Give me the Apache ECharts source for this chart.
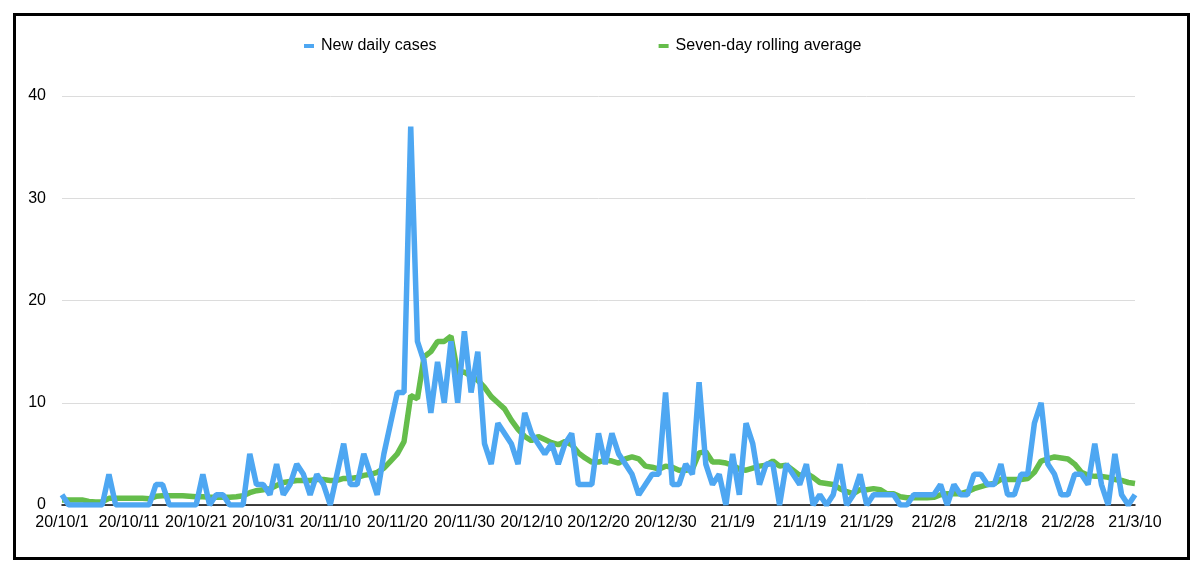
<!DOCTYPE html>
<html>
<head>
<meta charset="utf-8">
<script src="https://cdn.jsdelivr.net/npm/echarts@6/dist/echarts.min.js"></script>
<style>
html,body{margin:0;padding:0;background:#fff;}
#chart{width:1200px;height:570px;}
</style>
</head>
<body>
<div id="chart"></div>
<script>
// Series names
const seriesNames = ['New daily cases', 'Seven-day rolling average'];

// Daily categories 2020-10-01 .. 2021-03-10 (label format yy/m/d)
const startDate = [2020, 10, 1];
const dayCount = 161;
const categories = [];
(function () {
  const d = new Date(Date.UTC(startDate[0], startDate[1] - 1, startDate[2]));
  for (let i = 0; i < dayCount; i++) {
    categories.push((d.getUTCFullYear() % 100) + '/' + (d.getUTCMonth() + 1) + '/' + d.getUTCDate());
    d.setUTCDate(d.getUTCDate() + 1);
  }
})();

// New daily cases
const dailyCases = [
  1,0,0,0,0,0,0,3,0,0,
  0,0,0,0,2,2,0,0,0,0,
  0,3,0,1,1,0,0,0,5,2,
  2,1,4,1,2,4,3,1,3,2,
  0,3,6,2,2,5,3,1,5,8,
  11,11,37,16,14,9,14,10,16,10,
  17,11,15,6,4,8,7,6,4,9,
  7,6,5,6,4,6,7,2,2,2,
  7,4,7,5,4,3,1,2,3,3,
  11,2,2,4,3,12,4,2,3,0,
  5,1,8,6,2,4,4,0,4,3,
  2,4,0,1,0,1,4,0,1,3,
  0,1,1,1,1,0,0,1,1,1,
  1,2,0,2,1,1,3,3,2,2,
  4,1,1,3,3,8,10,4,3,1,
  1,3,3,2,6,2,0,5,1,0,
  1
];

// Seven-day rolling average
const rollingAvg = [
  0.5,0.5,0.5,0.5,0.35,0.3,0.3,0.65,0.65,0.65,
  0.65,0.65,0.65,0.6,0.85,0.9,0.9,0.9,0.9,0.85,
  0.8,0.8,0.75,0.75,0.75,0.75,0.8,0.9,1.2,1.4,
  1.5,1.6,1.9,2.2,2.3,2.4,2.4,2.4,2.5,2.5,
  2.4,2.4,2.6,2.6,2.7,2.9,3.0,3.2,3.6,4.3,
  5.0,6.2,10.7,10.4,14.5,15.0,16.0,16.0,16.5,12.9,
  13.0,12.6,12.2,11.5,10.6,10.0,9.4,8.3,7.4,6.7,
  6.3,6.7,6.4,6.1,5.9,6.2,5.9,5.1,4.6,4.2,
  4.2,4.4,4.3,4.1,4.5,4.7,4.5,3.8,3.7,3.5,
  3.8,3.7,3.4,3.4,3.5,5.1,5.2,4.2,4.2,4.1,
  3.9,3.5,3.4,3.6,3.8,3.9,4.3,3.8,3.9,3.4,
  2.9,3.1,2.7,2.2,2.1,2.0,1.6,1.3,1.1,1.5,
  1.5,1.6,1.5,1.1,1.1,0.8,0.7,0.7,0.7,0.7,
  0.75,1.0,1.1,1.1,1.1,1.3,1.6,1.8,2.0,2.1,
  2.5,2.5,2.5,2.5,2.6,3.2,4.3,4.5,4.7,4.6,
  4.5,4.0,3.2,2.9,2.8,2.8,2.7,2.5,2.4,2.2,
  2.1
];

// Y axis ticks
const yTicks = [0, 10, 20, 30, 40];

const FONT = '"Liberation Sans", Arial, Helvetica, sans-serif';
const chart = echarts.init(document.getElementById('chart'), null, {renderer: 'canvas'});
chart.setOption({
  animation: false,
  backgroundColor: '#ffffff',
  graphic: [{
    type: 'rect',
    left: 12, top: 12,
    shape: {x: 0, y: 0, width: 1174, height: 544},
    style: {fill: 'none', stroke: '#000', lineWidth: 3},
    z: 100
  }],
  legend: {
    data: seriesNames,
    left: 299,
    top: 33,
    icon: 'rect',
    itemWidth: 10,
    itemHeight: 4,
    itemGap: 222,
    textStyle: {fontFamily: FONT, fontSize: 16, color: '#000', padding: [0, 0, 0, 2]}
  },
  grid: {left: 62, right: 65, top: 96, bottom: 65, containLabel: false},
  xAxis: {
    type: 'category',
    data: categories,
    boundaryGap: false,
    axisLine: {show: true, lineStyle: {color: '#000', width: 1.5}},
    axisTick: {show: false},
    axisLabel: {interval: 9, margin: 10, fontFamily: FONT, fontSize: 16, color: '#000'},
    splitLine: {show: false}
  },
  yAxis: {
    type: 'value',
    min: yTicks[0],
    max: yTicks[yTicks.length - 1],
    interval: 10,
    axisLine: {show: false},
    axisTick: {show: false},
    axisLabel: {margin: 16, fontFamily: FONT, fontSize: 16, color: '#000'},
    splitLine: {lineStyle: {color: '#dcdcdc', width: 1}}
  },
  series: [
    {
      name: seriesNames[0],
      type: 'line',
      data: dailyCases,
      symbol: 'none',
      showSymbol: false,
      z: 4,
      itemStyle: {color: '#4ea7f2'},
      lineStyle: {color: '#4ea7f2', width: 5.5, join: 'bevel'}
    },
    {
      name: seriesNames[1],
      type: 'line',
      data: rollingAvg,
      symbol: 'none',
      showSymbol: false,
      z: 3,
      itemStyle: {color: '#65bd4b'},
      lineStyle: {color: '#65bd4b', width: 5.5}
    }
  ]
});
</script>
</body>
</html>
